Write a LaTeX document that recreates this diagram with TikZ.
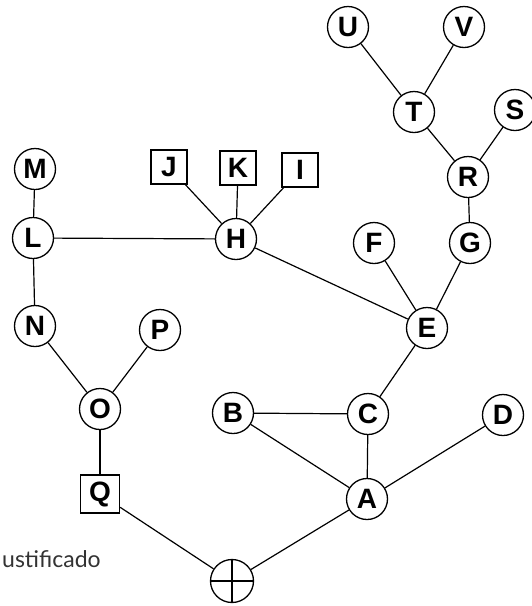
\documentclass[tikz,border=0pt]{standalone}
\usepackage{fontspec}
\setmainfont{Liberation Sans}
\newfontfamily\notefont{Lato}
\newcommand\labelfont{\fontsize{28pt}{30pt}\selectfont\bfseries}
\tikzset{
    cnode/.style={circle, draw, line width=1.3pt, minimum size=41pt, inner sep=0pt,
        font=\labelfont},
    snode/.style={rectangle, draw, line width=1.3pt, minimum width=36pt, minimum height=34pt,
        inner sep=0pt, font=\labelfont},
    link/.style={line width=1.2pt}
}

\begin{document}
\begin{tikzpicture}[x=1pt, y=-1pt]
    \useasboundingbox (0,0) rectangle (531,606);

    % Upper right branch
    \node[cnode] (U) at (348,27) {U};
    \node[cnode] (V) at (464,27) {V};
    \node[cnode] (T) at (414,112) {T};
    \node[cnode] (S) at (515,110) {S};
    \node[cnode] (R) at (468,177) {R};
    \node[cnode] (G) at (470,243) {G};
    \node[cnode] (F) at (374,243) {F};
    \node[cnode] (E) at (427,328) {E};

    % Upper left branch
    \node[cnode] (M) at (35,169) {M};
    \node[cnode] (L) at (33,238) {L};
    \node[snode] (J) at (169,167) {J};
    \node[snode] (K) at (238,168) {K};
    \node[snode] (I) at (300,170) {I};
    \node[cnode] (H) at (236,239) {H};
    \node[cnode] (N) at (35,326) {N};
    \node[cnode] (P) at (160,330) {P};
    \node[cnode] (O) at (100,409) {O};
    \node[snode, minimum width=39pt, minimum height=38pt] (Q) at (100,494) {Q};

    % Lower part
    \node[cnode] (B) at (233,413) {B};
    \node[cnode] (C) at (368,414) {C};
    \node[cnode] (D) at (503,415) {D};
    \node[cnode] (A) at (367,499) {A};

    % Root with cross
    \node[cnode, minimum size=43pt] (root) at (232,581) {};
    \draw[link] (root.north) -- (root.south);
    \draw[link] (root.west) -- (root.east);

    % Side note
    \node[anchor=base west, inner sep=0pt, text=black!80,
        font=\notefont\fontsize{23pt}{25pt}\selectfont] (note) at (2,567) {ustificado};

    % Connectors
    \draw[link] (U) -- (T);
    \draw[link] (V) -- (T);
    \draw[link] (T) -- (R);
    \draw[link] (S) -- (R);
    \draw[link] (R) -- (G);
    \draw[link] (G) -- (E);
    \draw[link] (F) -- (E);
    \draw[link] (H) -- (E);
    \draw[link] (J) -- (H);
    \draw[link] (K) -- (H);
    \draw[link] (I) -- (H);
    \draw[link] (L) -- (H);
    \draw[link] (M) -- (L);
    \draw[link] (L) -- (N);
    \draw[link] (N) -- (O);
    \draw[link] (P) -- (O);
    \draw[link] (O) -- (Q);
    \draw[link] (Q) -- (root);
    \draw[link] (root) -- (A);
    \draw[link] (B) -- (A);
    \draw[link] (C) -- (A);
    \draw[link] (D) -- (A);
    \draw[link] (B) -- (C);
    \draw[link] (C) -- (E);
\end{tikzpicture}
\end{document}
